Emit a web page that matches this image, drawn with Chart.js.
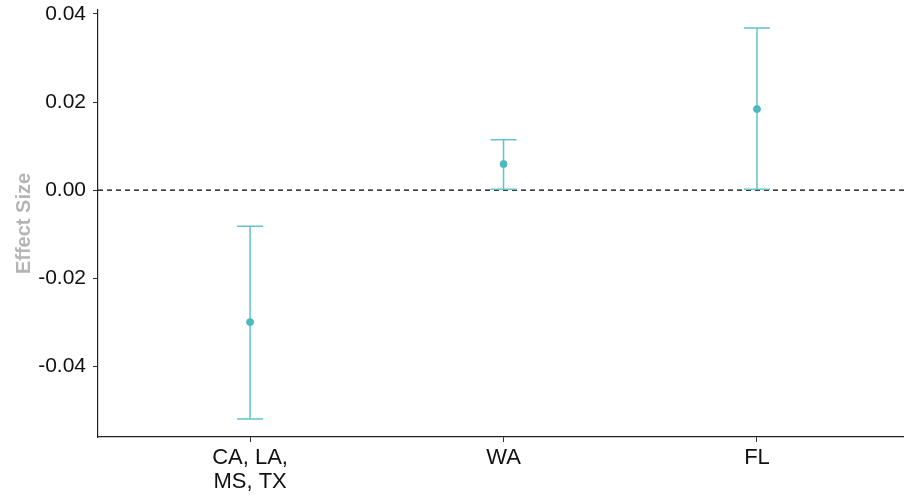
<!DOCTYPE html>
<html>
<head>
<meta charset="utf-8">
<script src="https://cdn.jsdelivr.net/npm/chart.js@4"></script>
<style>
  html, body { margin: 0; padding: 0; background: #ffffff; }
  canvas { display: block; }
</style>
</head>
<body>
<canvas id="chart" width="904" height="500"></canvas>
<script>
// Effect size estimates with confidence intervals per state group
const categories = [["CA, LA,", "MS, TX"], "WA", "FL"];
const estimates = [-0.0300, 0.0059, 0.0184];
const lowerBounds = [-0.0520, 0.0002, 0.0002];
const upperBounds = [-0.0082, 0.0114, 0.0368];
const yTicks = [-0.04, -0.02, 0.00, 0.02, 0.04];
const referenceValue = 0;

const teal = '#62c4c9';
const tealPoint = '#4db9bf';

const positions = categories.map((_, i) => i + 1);

// Draws the interval whiskers and caps underneath the estimate points
const errorBarPlugin = {
  id: 'errorBars',
  beforeDatasetDraw(chart, args) {
    if (args.index !== 1) return;
    const { ctx, scales: { x, y } } = chart;
    const capHalf = 13;
    ctx.save();
    ctx.strokeStyle = teal;
    ctx.lineWidth = 1.5;
    positions.forEach((p, i) => {
      const px = x.getPixelForValue(p);
      const top = y.getPixelForValue(upperBounds[i]);
      const bottom = y.getPixelForValue(lowerBounds[i]);
      ctx.beginPath();
      ctx.moveTo(px, top);
      ctx.lineTo(px, bottom);
      ctx.moveTo(px - capHalf, top);
      ctx.lineTo(px + capHalf, top);
      ctx.moveTo(px - capHalf, bottom);
      ctx.lineTo(px + capHalf, bottom);
      ctx.stroke();
    });
    ctx.restore();
  }
};

const xMin = 0.4, xMax = 3.58;
const fontFamily = 'Liberation Sans, Arial, sans-serif';

new Chart(document.getElementById('chart'), {
  type: 'scatter',
  data: {
    datasets: [
      {
        type: 'line',
        data: [{ x: xMin, y: referenceValue }, { x: xMax, y: referenceValue }],
        borderColor: '#000000',
        borderWidth: 1.3,
        borderDash: [5, 4],
        pointRadius: 0,
        fill: false,
        order: 2
      },
      {
        data: positions.map((p, i) => ({ x: p, y: estimates[i] })),
        backgroundColor: tealPoint,
        borderColor: tealPoint,
        pointRadius: 3.5,
        pointHoverRadius: 3.5,
        order: 1
      }
    ]
  },
  options: {
    responsive: false,
    animation: false,
    devicePixelRatio: 1,
    layout: { autoPadding: false, padding: { top: 10, right: 0, left: 0, bottom: 0 } },
    plugins: {
      legend: { display: false },
      tooltip: { enabled: false }
    },
    scales: {
      x: {
        type: 'linear',
        min: xMin,
        max: xMax,
        afterBuildTicks(scale) {
          scale.ticks = positions.map(v => ({ value: v }));
        },
        afterFit(scale) {
          scale.height = 63;
          scale.paddingLeft = 0;
          scale.paddingRight = 0;
        },
        grid: { drawOnChartArea: false, color: '#333333', tickLength: 5, tickWidth: 1 },
        border: { display: true, color: '#222222', width: 1.2 },
        ticks: {
          autoSkip: false,
          maxRotation: 0,
          padding: 4,
          color: '#111111',
          font: { family: fontFamily, size: 22, lineHeight: 1.1 },
          callback: (v) => categories[Math.round(v) - 1]
        }
      },
      y: {
        type: 'linear',
        min: -0.0561,
        max: 0.0409,
        afterBuildTicks(scale) {
          scale.ticks = yTicks.map(v => ({ value: v }));
        },
        afterFit(scale) {
          scale.width = 98;
          scale.paddingTop = 0;
          scale.paddingBottom = 0;
        },
        grid: { drawOnChartArea: false, color: '#333333', tickLength: 5, tickWidth: 1 },
        border: { display: true, color: '#222222', width: 1.2 },
        title: {
          display: true,
          text: 'Effect Size',
          color: '#b5b5b5',
          font: { family: fontFamily, size: 20, weight: 'bold' },
          padding: { top: 12, bottom: 0 }
        },
        ticks: {
          padding: 7,
          color: '#111111',
          font: { family: fontFamily, size: 21 },
          callback: (v) => Number(v).toFixed(2)
        }
      }
    }
  },
  plugins: [errorBarPlugin]
});
</script>
</body>
</html>
